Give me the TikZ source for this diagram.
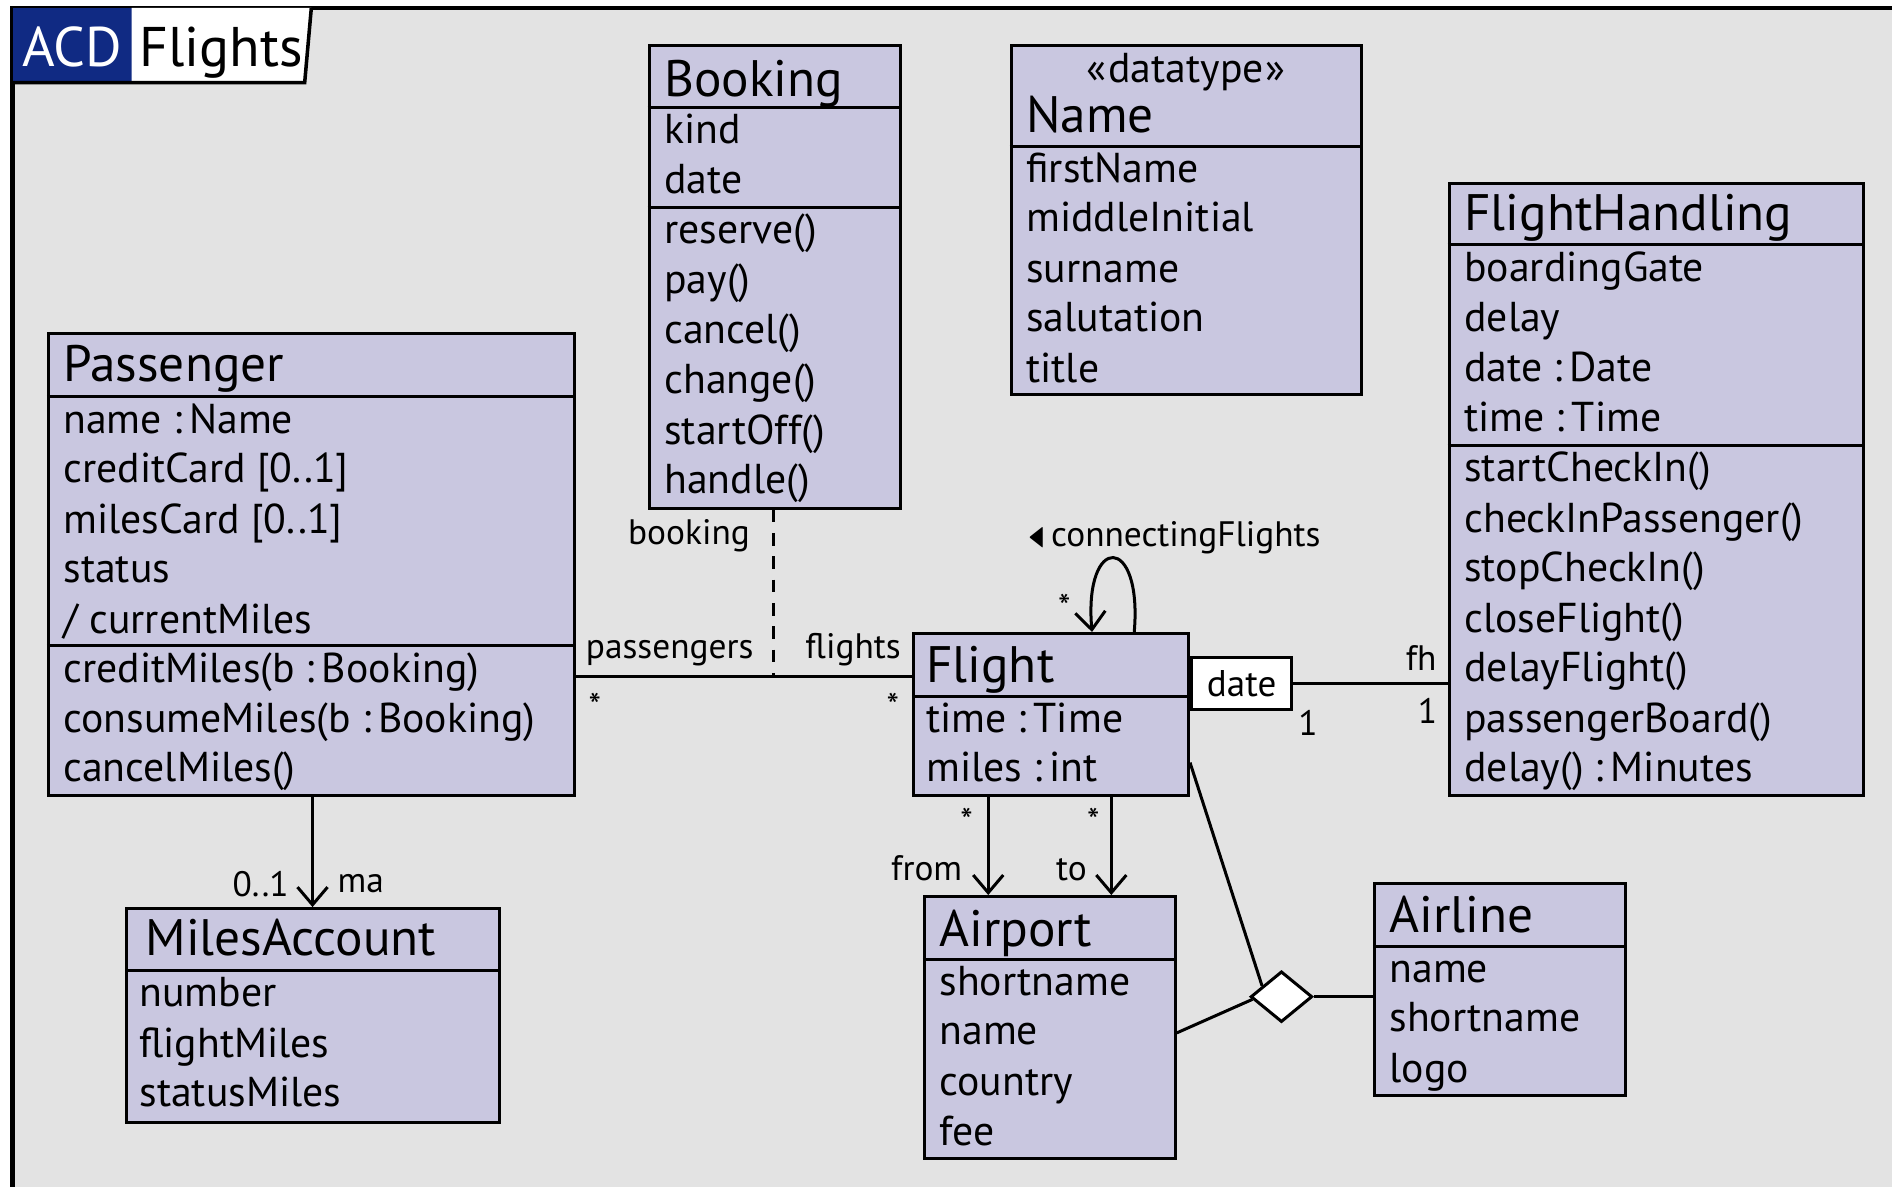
\documentclass[tikz,border=0pt]{standalone}
\usepackage{amssymb}
\usepackage{fontspec}
\setmainfont{PT Sans}
\usepackage{tikz}
\usetikzlibrary{fit,calc,shapes.geometric,arrows.meta}

\definecolor{umlfill}{RGB}{201,199,224}
\definecolor{umlback}{RGB}{227,227,227}
\definecolor{acdblue}{RGB}{16,42,131}

\tikzset{
  classbox/.style={draw, line width=0.85pt, fill=umlfill, inner sep=0pt},
  sepline/.style={line width=0.85pt},
  classtitle/.style={anchor=base west, inner sep=0pt, font=\fontsize{14.5}{17}\selectfont},
  attr/.style={anchor=base west, inner sep=0pt, font=\fontsize{11.8}{14}\selectfont},
  rolelabel/.style={anchor=base, inner sep=0pt, font=\fontsize{10}{12}\selectfont},
  mult/.style={inner sep=0pt, font=\fontsize{10}{12}\selectfont},
  link/.style={line width=0.85pt},
  navarrow/.style={line width=0.85pt, -{Straight Barb[length=5pt,width=8.5pt]}},
}

\begin{document}
\begin{tikzpicture}[x=0.012cm, y=-0.012cm]
        \useasboundingbox (0,0) rectangle (1568,983);
        % Frame and tab
        \fill[white] (0,0) rectangle (1568,983);
        \fill[umlback] (10.4,6.6) rectangle (1580,1000);
        \draw[line width=1.2pt] (10.4,1000) -- (10.4,6.6) -- (1580,6.6);
        \fill[acdblue] (10.4,6.6) rectangle (109,68.5);
        \fill[white] (109,6.6) -- (258,6.6) -- (252.5,68.5) -- (109,68.5) -- cycle;
        \draw[line width=1pt] (10.4,68.5) -- (252.5,68.5) -- (258,6.6);
        \node[anchor=base west, inner sep=0pt, text=white, font=\fontsize{15.8}{19}\selectfont] (acd) at (18,55.3) {ACD};
        \node[anchor=base west, inner sep=0pt, font=\fontsize{15.8}{19}\selectfont] (tabname) at (115,55.3) {Flights};

        % Booking
        \node[classbox, fit={(538,38) (746,421)}] (booking) {};
        \draw[sepline] (booking.west |- 0,89) -- (booking.east |- 0,89);
        \draw[sepline] (booking.west |- 0,172) -- (booking.east |- 0,172);
        \node[classtitle] (bkT) at (550,80) {Booking};
        \node[attr] (bk1) at (550,119) {kind};
        \node[attr] (bk2) at (550,160) {date};
        \node[attr] (bk3) at (550,202) {reserve()};
        \node[attr] (bk4) at (550,243) {pay()};
        \node[attr] (bk5) at (550,285) {cancel()};
        \node[attr] (bk6) at (550,326) {change()};
        \node[attr] (bk7) at (550,368) {startOff()};
        \node[attr] (bk8) at (550,409) {handle()};

        % Name (datatype)
        \node[classbox, fit={(838,38) (1128,327)}] (name) {};
        \draw[sepline] (name.west |- 0,121) -- (name.east |- 0,121);
        \node[attr, anchor=base] (nmS) at (983,68) {«\kern0.5pt datatype\kern0.5pt»};
        \node[classtitle] (nmT) at (850,110) {Name};
        \node[attr] (nm1) at (850,151) {firstName};
        \node[attr] (nm2) at (850,192) {middleInitial};
        \node[attr] (nm3) at (850,234) {surname};
        \node[attr] (nm4) at (850,275) {salutation};
        \node[attr] (nm5) at (850,317) {title};

        % FlightHandling
        \node[classbox, fit={(1201,152) (1544,659)}] (handling) {};
        \draw[sepline] (handling.west |- 0,203) -- (handling.east |- 0,203);
        \draw[sepline] (handling.west |- 0,369) -- (handling.east |- 0,369);
        \node[classtitle] (fhT) at (1213,191) {FlightHandling};
        \node[attr] (fh1) at (1213,233) {boardingGate};
        \node[attr] (fh2) at (1213,275) {delay};
        \node[attr] (fh3) at (1213,316) {date :\,Date};
        \node[attr] (fh4) at (1213,358) {time :\,Time};
        \node[attr] (fh5) at (1213,399) {startCheckIn()};
        \node[attr] (fh6) at (1213,441) {checkInPassenger()};
        \node[attr] (fh7) at (1213,482) {stopCheckIn()};
        \node[attr] (fh8) at (1213,524) {closeFlight()};
        \node[attr] (fh9) at (1213,565) {delayFlight()};
        \node[attr] (fh10) at (1213,607) {passengerBoard()};
        \node[attr] (fh11) at (1213,648) {delay() :\,Minutes};

        % Passenger
        \node[classbox, fit={(40,276) (476,659)}] (passenger) {};
        \draw[sepline] (passenger.west |- 0,329) -- (passenger.east |- 0,329);
        \draw[sepline] (passenger.west |- 0,535) -- (passenger.east |- 0,535);
        \node[classtitle] (paT) at (52,316) {Passenger};
        \node[attr] (pa1) at (52,359) {name :\,Name};
        \node[attr] (pa2) at (52,400) {creditCard [0..1]};
        \node[attr] (pa3) at (52,442) {milesCard [0..1]};
        \node[attr] (pa4) at (52,483) {status};
        \node[attr] (pa5) at (52,525) {/ currentMiles};
        \node[attr] (pa6) at (52,566) {creditMiles(b :\,Booking)};
        \node[attr] (pa7) at (52,607) {consumeMiles(b :\,Booking)};
        \node[attr] (pa8) at (52,648) {cancelMiles()};

        % MilesAccount
        \node[classbox, fit={(105,753) (414,930)}] (account) {};
        \draw[sepline] (account.west |- 0,804) -- (account.east |- 0,804);
        \node[classtitle] (maT) at (120,792) {MilesAccount};
        \node[attr] (ma1) at (115,834) {number};
        \node[attr] (ma2) at (115,876) {flightMiles};
        \node[attr] (ma3) at (115,917) {statusMiles};

        % Flight
        \node[classbox, fit={(757,525) (985,659)}] (flight) {};
        \draw[sepline] (flight.west |- 0,577) -- (flight.east |- 0,577);
        \node[classtitle] (flT) at (767,566) {Flight};
        \node[attr] (fl1) at (767,607) {time :\,Time};
        \node[attr] (fl2) at (767,648) {miles :\,int};

        % Airport
        \node[classbox, fit={(766,743) (974,960)}] (airport) {};
        \draw[sepline] (airport.west |- 0,795) -- (airport.east |- 0,795);
        \node[classtitle] (apT) at (778,784) {Airport};
        \node[attr] (ap1) at (778,825) {shortname};
        \node[attr] (ap2) at (778,866) {name};
        \node[attr] (ap3) at (778,908) {country};
        \node[attr] (ap4) at (778,949) {fee};

        % Airline
        \node[classbox, fit={(1139,732) (1347,908)}] (airline) {};
        \draw[sepline] (airline.west |- 0,784) -- (airline.east |- 0,784);
        \node[classtitle] (alT) at (1151,773) {Airline};
        \node[attr] (al1) at (1151,814) {name};
        \node[attr] (al2) at (1151,855) {shortname};
        \node[attr] (al3) at (1151,897) {logo};

        % Passenger -- Flight with Booking as association class
        \coordinate (pfmid) at (641,561);
        \draw[link] (passenger.east |- pfmid) -- (flight.west |- pfmid);
        \draw[link, dash pattern=on 3.6pt off 3pt] (booking.south -| pfmid) -- (pfmid);
        \node[rolelabel] (rpass) at (555,546) {passengers};
        \node[rolelabel] (rflights) at (707,546) {flights};
        \node[rolelabel] (rbooking) at (571,451) {booking};
        \node[mult] (mpass) at (493,585) {*};
        \node[mult] (mflights) at (740,585) {*};

        % connecting flights
        \draw[navarrow] (flight.north -| 940,0) .. controls (947,442) and (898,442) .. (flight.north -| 905,0);
        \node[mult] (mconn) at (882,503) {*};
        \node[rolelabel, anchor=base west] (rconn) at (852,453) {\scalebox{0.6}[1]{$\blacktriangleleft$}\,connectingFlights};

        % Flight -- FlightHandling with qualifier
        \node[draw, line width=0.85pt, fill=white, minimum width=0.996cm, minimum height=0.516cm,
              inner sep=0pt, anchor=west, font=\fontsize{10.5}{13}\selectfont] (qual) at (flight.east |- 0,566.5) {date};
        \draw[link] (qual.east) -- (handling.west |- qual.east);
        \node[rolelabel, anchor=base east] (rfh) at (1191,556) {fh};
        \node[mult] (mfh) at (1183,589) {1};
        \node[mult] (mqual) at (1084,599) {1};

        % Passenger -> MilesAccount
        \draw[navarrow] (passenger.south -| 259,0) -- (account.north -| 259,0);
        \node[mult] (mma) at (216,733) {0..1};
        \node[rolelabel] (rma) at (299,740) {ma};

        % Flight -> Airport
        \draw[navarrow] (flight.south -| 819,0) -- (airport.north -| 819,0);
        \draw[navarrow] (flight.south -| 921,0) -- (airport.north -| 921,0);
        \node[mult] (mfrom) at (801,680) {*};
        \node[mult] (mto) at (906,680) {*};
        \node[rolelabel] (rfrom) at (768,730) {from};
        \node[rolelabel] (rto) at (888,730) {to};

        % ternary association
        \node[diamond, draw, line width=0.85pt, fill=white, minimum width=0.612cm, minimum height=0.504cm, inner sep=0pt] (tern) at (1062,826) {};
        \draw[link] (flight.east |- 0,632) -- ($(tern.west)!0.4!(tern.north)$);
        \draw[link] (airport.east |- 0,856) -- ($(tern.west)!0.1!(tern.south)$);
        \draw[link] (tern.east) -- (airline.west |- tern.east);
\end{tikzpicture}
\end{document}
